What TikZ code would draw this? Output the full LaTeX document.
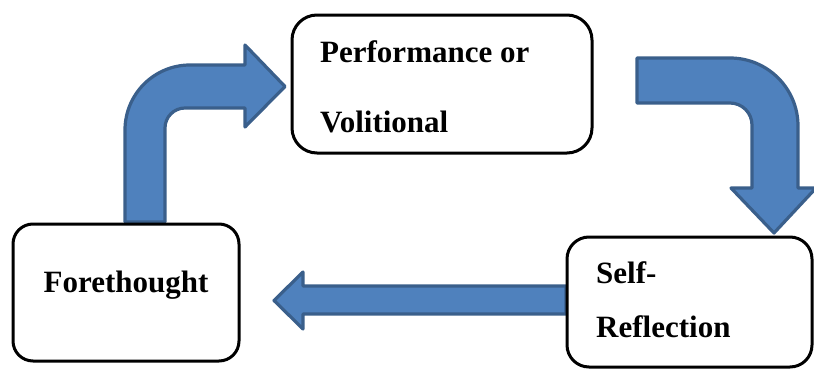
\documentclass[tikz,border=0pt]{standalone}
\usepackage{fontspec}
\setmainfont{Liberation Serif}
\definecolor{arrfill}{HTML}{4F81BD}
\definecolor{arrline}{HTML}{3A5F8B}
\begin{document}
\begin{tikzpicture}[x=1pt,y=1pt,
  blockarrow/.style={fill=arrfill,draw=arrline,line width=3.2pt,line join=round},
  stagebox/.style={draw=black,fill=white,line width=3pt,inner sep=0pt},
  label/.style={font=\fontsize{31}{31}\selectfont\bfseries,inner sep=0pt,anchor=base west}]
\useasboundingbox (0,0) rectangle (814,-370);
\clip (0,0) rectangle (814,-370);
% arrow 1: up then right
\draw[blockarrow] (125,-222) -- (125,-130) arc[start angle=180,end angle=90,radius=65]
  -- (245,-65) -- (245,-45) -- (285,-86.5) -- (245,-127) -- (245,-108) -- (185,-108)
  arc[start angle=90,end angle=180,radius=20] -- (165,-222) -- cycle;
% arrow 2: right then down
\draw[blockarrow] (637,-58) -- (730,-58) arc[start angle=90,end angle=0,radius=68]
  -- (798,-188) -- (816,-188) -- (774,-233) -- (731,-188) -- (752,-188) -- (752,-125)
  arc[start angle=0,end angle=90,radius=22] -- (637,-103) -- cycle;
% arrow 3: left
\draw[blockarrow] (566,-286) -- (303,-286) -- (303,-272) -- (274,-300.5) -- (303,-329)
  -- (303,-314) -- (566,-314) -- cycle;
% boxes
\draw[stagebox,rounded corners=20pt] (13,-224) rectangle (239,-361);
\node[coordinate] (fore) at (126,-292.5) {};
\draw[stagebox,rounded corners=25pt] (292,-15) rectangle (592,-153);
\node[coordinate] (perf) at (442,-84) {};
\draw[stagebox,rounded corners=22pt] (567,-237) rectangle (812,-367);
\node[coordinate] (self) at (690,-300) {};
% texts
\node[label,anchor=base] (t1) at (126,-292) {Forethought};
\node[label] (t2) at (320,-62) {Performance or};
\node[label] (t3) at (320,-132) {Volitional};
\node[label] (t4) at (596,-283) {Self-};
\node[label] (t5) at (596,-337) {Reflection};
\end{tikzpicture}
\end{document}
